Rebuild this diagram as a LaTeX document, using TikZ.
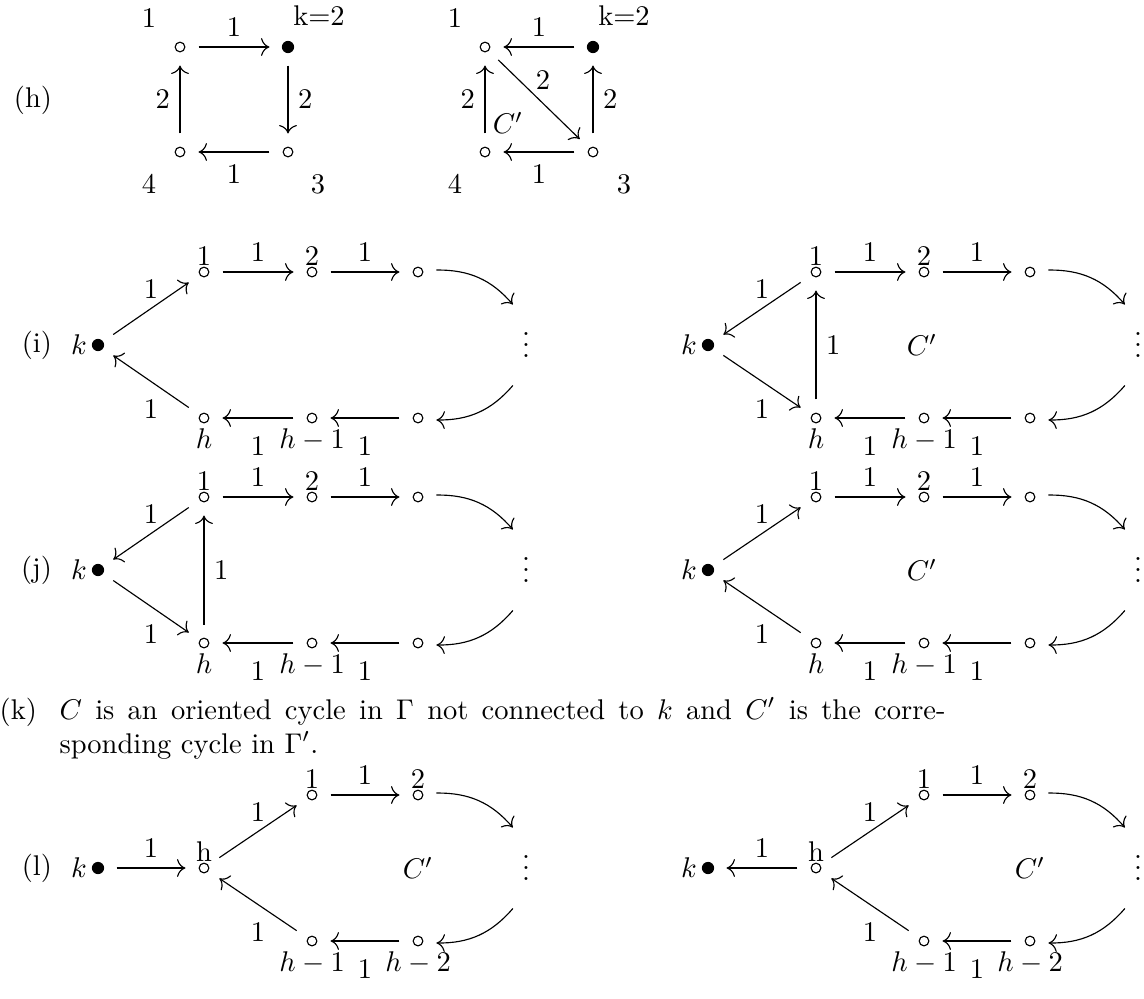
\documentclass[tikz,border=0pt]{standalone}
\usepackage{amsmath}
\usetikzlibrary{arrows.meta}

\tikzset{
  vtx/.style={circle,draw,inner sep=0pt,minimum size=3.4pt,outer sep=4.8pt},
  kdot/.style={circle,fill,inner sep=0pt,minimum size=4.3pt,outer sep=4.35pt},
  arr/.style={-{Computer Modern Rightarrow[scale=1.2]}},
  lab/.style={inner sep=0pt},
  dts/.style={circle,inner sep=0pt,minimum size=29.5pt,text height=9pt,text depth=0pt},
  lbup/.style={label={[lab,label distance=-4.3pt]90:#1}},
  lbdn/.style={label={[lab,label distance=-3pt]-90:$#1$}},
  lbk/.style={label={[lab,label distance=-2.8pt]180:$k$}},
  bl/.style={below=2.8pt},
}

\begin{document}
\begin{tikzpicture}[x=0.351pt,y=-0.351pt]
  \useasboundingbox (0,0) rectangle (1144,998);

  % (h) left square
  \node[anchor=east] (lh) at (62,100) {(h)};
  \node[vtx] (h1) at (180,47) {};
  \node[kdot] (h2) at (288,47) {};
  \node[vtx] (h3) at (288,152) {};
  \node[vtx] (h4) at (180,152) {};
  \node (nh1) at (149,18) {1};
  \node (nh2) at (319,16) {k=2};
  \node (nh3) at (318,184) {3};
  \node (nh4) at (149,184) {4};
  \draw[arr] (h1) -- node[above] {1} (h2);
  \draw[arr] (h2) -- node[right] {2} (h3);
  \draw[arr] (h3) -- node[below=1pt] {1} (h4);
  \draw[arr] (h4) -- node[left] {2} (h1);

  % (h) right square
  \node[vtx] (g1) at (485,47) {};
  \node[kdot] (g2) at (593,47) {};
  \node[vtx] (g3) at (593,152) {};
  \node[vtx] (g4) at (485,152) {};
  \node (ng1) at (455,18) {1};
  \node (ng2) at (624,16) {k=2};
  \node (ng3) at (624,184) {3};
  \node (ng4) at (455,184) {4};
  \node (cg) at (508,123) {$C'$};
  \draw[arr] (g2) -- node[above] {1} (g1);
  \draw[arr] (g4) -- node[left] {2} (g1);
  \draw[arr] (g1) -- node[pos=.42,above right,inner sep=1pt] {2} (g3);
  \draw[arr] (g3) -- node[right] {2} (g2);
  \draw[arr] (g3) -- node[below=1pt] {1} (g4);

  % (i) left
  \node[anchor=east] (li) at (62,345) {(i)};
  \node[kdot,lbk] (i0) at (98,345) {};
  \node[vtx,lbup=1] (i1) at (204,272) {};
  \node[vtx,lbup=2] (i2) at (312,272) {};
  \node[vtx] (i3) at (418,272) {};
  \node[dts] (i4) at (526,345) {$\vdots$};
  \node[vtx] (i5) at (418,418) {};
  \node[vtx,lbdn=h-1] (i6) at (312,418) {};
  \node[vtx,lbdn=h] (i7) at (204,418) {};
  \draw[arr] (i0) -- node[above] {1} (i1);
  \draw[arr] (i1) -- node[above] {1} (i2);
  \draw[arr] (i2) -- node[above] {1} (i3);
  \draw[arr] (i3) to[bend left=25] (i4.108);
  \draw[arr] (i4.252) to[bend left=25] (i5);
  \draw[arr] (i5) -- node[bl] {1} (i6);
  \draw[arr] (i6) -- node[bl] {1} (i7);
  \draw[arr] (i7) -- node[bl] {1} (i0);

  % (i) right
  \node[kdot,lbk] (ii0) at (708,345) {};
  \node[vtx,lbup=1] (ii1) at (816,272) {};
  \node[vtx,lbup=2] (ii2) at (924,272) {};
  \node[vtx] (ii3) at (1030,272) {};
  \node[dts] (ii4) at (1138,345) {$\vdots$};
  \node[vtx] (ii5) at (1030,418) {};
  \node[vtx,lbdn=h-1] (ii6) at (924,418) {};
  \node[vtx,lbdn=h] (ii7) at (816,418) {};
  \node (cii) at (922,345) {$C'$};
  \draw[arr] (ii1) -- node[above] {1} (ii0);
  \draw[arr] (ii0) -- node[bl] {1} (ii7);
  \draw[arr] (ii7) -- node[right] {1} (ii1);
  \draw[arr] (ii1) -- node[above] {1} (ii2);
  \draw[arr] (ii2) -- node[above] {1} (ii3);
  \draw[arr] (ii3) to[bend left=25] (ii4.108);
  \draw[arr] (ii4.252) to[bend left=25] (ii5);
  \draw[arr] (ii5) -- node[bl] {1} (ii6);
  \draw[arr] (ii6) -- node[bl] {1} (ii7);

  % (j) left
  \node[anchor=east] (lj) at (62,570) {(j)};
  \node[kdot,lbk] (j0) at (98,570) {};
  \node[vtx,lbup=1] (j1) at (204,497) {};
  \node[vtx,lbup=2] (j2) at (312,497) {};
  \node[vtx] (j3) at (418,497) {};
  \node[dts] (j4) at (526,570) {$\vdots$};
  \node[vtx] (j5) at (418,643) {};
  \node[vtx,lbdn=h-1] (j6) at (312,643) {};
  \node[vtx,lbdn=h] (j7) at (204,643) {};
  \draw[arr] (j1) -- node[above] {1} (j0);
  \draw[arr] (j0) -- node[bl] {1} (j7);
  \draw[arr] (j7) -- node[right] {1} (j1);
  \draw[arr] (j1) -- node[above] {1} (j2);
  \draw[arr] (j2) -- node[above] {1} (j3);
  \draw[arr] (j3) to[bend left=25] (j4.108);
  \draw[arr] (j4.252) to[bend left=25] (j5);
  \draw[arr] (j5) -- node[bl] {1} (j6);
  \draw[arr] (j6) -- node[bl] {1} (j7);

  % (j) right
  \node[kdot,lbk] (jj0) at (708,570) {};
  \node[vtx,lbup=1] (jj1) at (816,497) {};
  \node[vtx,lbup=2] (jj2) at (924,497) {};
  \node[vtx] (jj3) at (1030,497) {};
  \node[dts] (jj4) at (1138,570) {$\vdots$};
  \node[vtx] (jj5) at (1030,643) {};
  \node[vtx,lbdn=h-1] (jj6) at (924,643) {};
  \node[vtx,lbdn=h] (jj7) at (816,643) {};
  \node (cjj) at (922,570) {$C'$};
  \draw[arr] (jj0) -- node[above] {1} (jj1);
  \draw[arr] (jj1) -- node[above] {1} (jj2);
  \draw[arr] (jj2) -- node[above] {1} (jj3);
  \draw[arr] (jj3) to[bend left=25] (jj4.108);
  \draw[arr] (jj4.252) to[bend left=25] (jj5);
  \draw[arr] (jj5) -- node[bl] {1} (jj6);
  \draw[arr] (jj6) -- node[bl] {1} (jj7);
  \draw[arr] (jj7) -- node[bl] {1} (jj0);

  % (k) text
  \node[anchor=base east] (lk) at (47,719) {(k)};
  \node[anchor=base west,text width=311pt,align=justify,inner sep=0pt] (tk) at (59,719)
    {$C$ is an oriented cycle in $\Gamma$ not connected to $k$ and $C'$ is the corre-\linebreak
     sponding cycle in $\Gamma'$.};

  % (l) left
  \node[anchor=east] (ll) at (62,868) {(l)};
  \node[kdot,lbk] (l0) at (98,868) {};
  \node[vtx,lbup=h] (l1) at (204,868) {};
  \node[vtx,lbup=1] (l2) at (312,795) {};
  \node[vtx,lbup=2] (l3) at (418,795) {};
  \node[dts] (l4) at (526,868) {$\vdots$};
  \node[vtx,lbdn=h-2] (l5) at (418,941) {};
  \node[vtx,lbdn=h-1] (l6) at (312,941) {};
  \node (cl) at (418,868) {$C'$};
  \draw[arr] (l0) -- node[above] {1} (l1);
  \draw[arr] (l1) -- node[above] {1} (l2);
  \draw[arr] (l2) -- node[above] {1} (l3);
  \draw[arr] (l3) to[bend left=25] (l4.108);
  \draw[arr] (l4.252) to[bend left=25] (l5);
  \draw[arr] (l5) -- node[bl] {1} (l6);
  \draw[arr] (l6) -- node[bl] {1} (l1);

  % (l) right
  \node[kdot,lbk] (ll0) at (708,868) {};
  \node[vtx,lbup=h] (ll1) at (816,868) {};
  \node[vtx,lbup=1] (ll2) at (924,795) {};
  \node[vtx,lbup=2] (ll3) at (1030,795) {};
  \node[dts] (ll4) at (1138,868) {$\vdots$};
  \node[vtx,lbdn=h-2] (ll5) at (1030,941) {};
  \node[vtx,lbdn=h-1] (ll6) at (924,941) {};
  \node (cll) at (1030,868) {$C'$};
  \draw[arr] (ll1) -- node[above] {1} (ll0);
  \draw[arr] (ll1) -- node[above] {1} (ll2);
  \draw[arr] (ll2) -- node[above] {1} (ll3);
  \draw[arr] (ll3) to[bend left=25] (ll4.108);
  \draw[arr] (ll4.252) to[bend left=25] (ll5);
  \draw[arr] (ll5) -- node[bl] {1} (ll6);
  \draw[arr] (ll6) -- node[bl] {1} (ll1);
\end{tikzpicture}
\end{document}
